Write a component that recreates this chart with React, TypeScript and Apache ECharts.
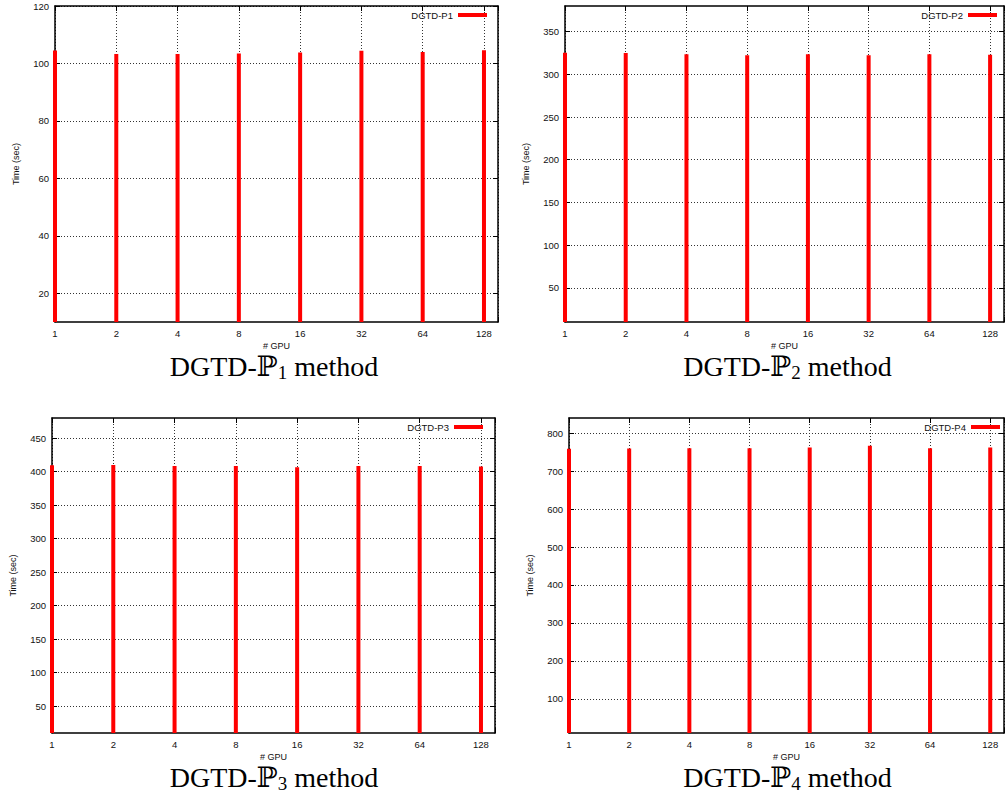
import React, { useEffect, useRef } from "react";
import * as echarts from "echarts";

// ---------- data ----------
const gpuCounts = [1, 2, 4, 8, 16, 32, 64, 128];
const timeP1 = [104.5, 103.3, 103.3, 103.5, 103.8, 104.4, 104.0, 104.6];
const timeP2 = [325.4, 325.0, 323.4, 322.2, 323.4, 322.2, 323.4, 323.0];
const timeP3 = [409.5, 410.0, 408.5, 408.5, 406.5, 408.5, 408.5, 407.5];
const timeP4 = [758.7, 759.5, 760.5, 760.5, 762.0, 766.6, 760.5, 762.0];

const seriesNames = ["DGTD-P1", "DGTD-P2", "DGTD-P3", "DGTD-P4"];
const captionOrders = ["1", "2", "3", "4"];

const yTicksP1 = [20, 40, 60, 80, 100, 120];
const yTicksP2 = [50, 100, 150, 200, 250, 300, 350];
const yTicksP3 = [50, 100, 150, 200, 250, 300, 350, 400, 450];
const yTicksP4 = [100, 200, 300, 400, 500, 600, 700, 800];
const yMins = [10, 10, 10, 10];
const yMaxs = [120, 380, 480, 840];
const xMin = 1;
const xMax = 150;

const xAxisTitle = "# GPU";
const yAxisTitle = "Time (sec)";

const allTimes = [timeP1, timeP2, timeP3, timeP4];
const allYTicks = [yTicksP1, yTicksP2, yTicksP3, yTicksP4];

// ---------- layout ----------
const panels = [
  { left: 55, top: 6, width: 443, height: 316, legendRight: 520, legendTop: 10, capX: 274, capY: 366 },
  { left: 565, top: 6, width: 441, height: 316, legendRight: 10, legendTop: 10, capX: 787.5, capY: 366 },
  { left: 52, top: 418, width: 443, height: 315, legendRight: 524, legendTop: 422, capX: 274, capY: 777 },
  { left: 569, top: 418, width: 442, height: 315, legendRight: 7, legendTop: 422, capX: 787.5, capY: 777 },
];

const SANS = "'Liberation Sans', Arial, Helvetica, sans-serif";
const SERIF = "'Liberation Serif', 'DejaVu Serif', 'Times New Roman', serif";
const TXT = "#111";

function pow2Label(v: number): string {
  const r = Math.round(Math.log2(v));
  const p = Math.pow(2, r);
  return Math.abs(p - v) < 1e-6 * p ? String(p) : "";
}

export default function App() {
  const ref = useRef<HTMLDivElement>(null);

  useEffect(() => {
    if (!ref.current) return;
    const chart = echarts.init(ref.current, undefined, { renderer: "svg" });

    const grid: any[] = [];
    const xAxis: any[] = [];
    const yAxis: any[] = [];
    const series: any[] = [];
    const legend: any[] = [];
    const graphic: any[] = [];

    panels.forEach((p, i) => {
      grid.push({ left: p.left, top: p.top, width: p.width, height: p.height, show: false });

      const xCommon = {
        type: "log",
        logBase: 2,
        gridIndex: i,
        min: xMin,
        max: xMax,
        axisLine: { show: true, onZero: false, lineStyle: { color: "#000", width: 1.5 } },
        axisTick: { show: true, inside: true, length: 5, lineStyle: { color: "#000", width: 1 } },
        minorTick: { show: false },
      };
      xAxis.push({
        ...xCommon,
        position: "bottom",
        name: xAxisTitle,
        nameLocation: "middle",
        nameGap: 19,
        nameTextStyle: { fontSize: 9, color: TXT, fontFamily: SANS },
        axisLabel: { show: true, formatter: pow2Label, fontSize: 9.5, color: TXT, fontFamily: SANS, margin: 6 },
        splitLine: { show: true, lineStyle: { color: "#333", type: [1, 2], width: 1 } },
      });
      xAxis.push({
        ...xCommon,
        position: "top",
        axisLabel: { show: false },
        splitLine: { show: false },
      });

      const yCommon = {
        type: "value",
        gridIndex: i,
        min: yMins[i],
        max: yMaxs[i],
        axisLine: { show: true, onZero: false, lineStyle: { color: "#000", width: 1.5 } },
        axisTick: {
          show: true,
          inside: true,
          length: 5,
          customValues: allYTicks[i],
          lineStyle: { color: "#000", width: 1 },
        },
      };
      yAxis.push({
        ...yCommon,
        position: "left",
        name: yAxisTitle,
        nameLocation: "middle",
        nameGap: 35,
        nameTextStyle: { fontSize: 9, color: TXT, fontFamily: SANS },
        axisLabel: {
          show: true,
          customValues: allYTicks[i],
          fontSize: 9.5,
          color: TXT,
          fontFamily: SANS,
          margin: 6,
        },
        splitLine: { show: true, lineStyle: { color: "#333", type: [1, 2], width: 1 } },
      });
      yAxis.push({
        ...yCommon,
        position: "right",
        axisLabel: { show: false },
        splitLine: { show: false },
      });

      series.push({
        type: "bar",
        name: seriesNames[i],
        xAxisIndex: 2 * i,
        yAxisIndex: 2 * i,
        barWidth: 4,
        clip: true,
        itemStyle: { color: "#ff0000" },
        data: gpuCounts.map((g, j) => [g, allTimes[i][j]]),
      });

      legend.push({
        data: [seriesNames[i]],
        right: p.legendRight,
        top: p.legendTop,
        padding: 0,
        icon: "rect",
        itemWidth: 29,
        itemHeight: 4,
        align: "right",
        selectedMode: false,
        textStyle: { fontSize: 9.5, color: TXT, fontFamily: SANS },
      });

      graphic.push({
        type: "text",
        x: p.capX,
        y: p.capY,
        style: {
          text: `{m|DGTD-ℙ}{s|${captionOrders[i]}}{m| method}`,
          align: "center",
          verticalAlign: "middle",
          fill: "#000",
          rich: {
            m: { fontSize: 28, fontFamily: SERIF, lineHeight: 32, fill: "#000" },
            s: { fontSize: 19, fontFamily: SERIF, lineHeight: 20, verticalAlign: "bottom", fill: "#000" },
          },
        },
      });
    });

    chart.setOption({
      animation: false,
      backgroundColor: "#fff",
      grid,
      xAxis,
      yAxis,
      series,
      legend,
      graphic,
    });

    return () => chart.dispose();
  }, []);

  return (
    <div
      ref={ref}
      style={{ position: "absolute", left: 0, top: 0, width: 1007, height: 795 }}
    />
  );
}
